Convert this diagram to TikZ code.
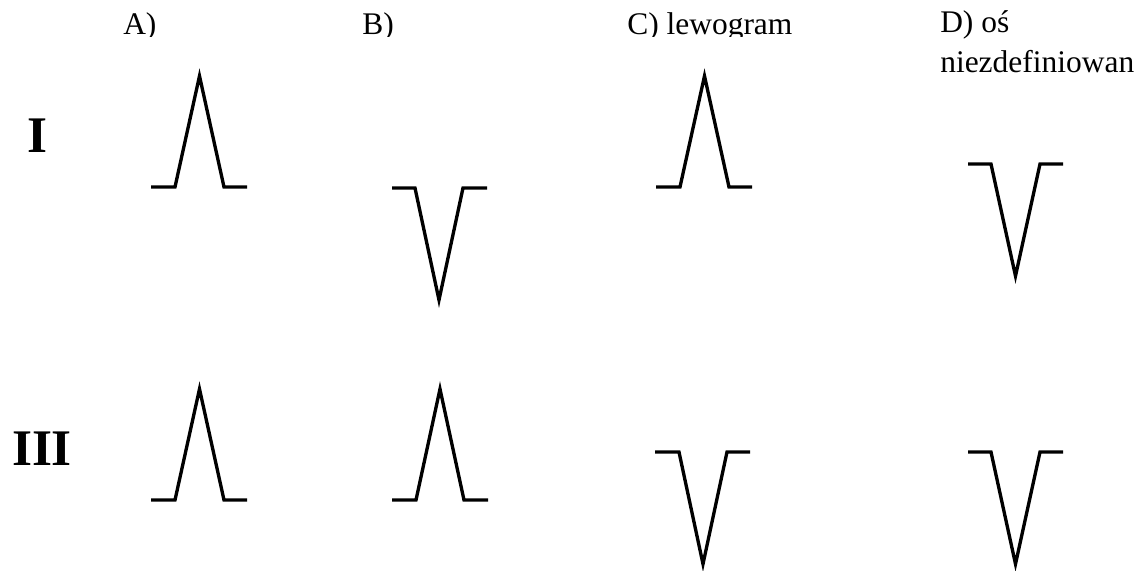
\documentclass[tikz,border=0pt]{standalone}
\usepackage{fontspec}
\setmainfont{Liberation Serif}
\usetikzlibrary{positioning}

\begin{document}
\begin{tikzpicture}[
			x=0.75pt, y=-0.75pt,
			wave/.style={
				line width=2.5pt, line join=miter, line cap=butt, black
			},
			colhead/.style={
				anchor=base west, inner sep=0pt, align=left,
				font=\fontsize{23.6}{29.3}\selectfont
			},
			lead/.style={
				anchor=base, inner sep=0pt,
				font=\fontsize{38.5}{40}\selectfont\bfseries
			}
			]
			\useasboundingbox (0,0) rectangle (1139,571);
			
			%% ── Column headers (cut off at the bottom) ──────────────────────────
			\begin{scope}
				\clip (0,0) rectangle (900,36);
				\node[colhead] (ha) at (123,34) {A)};
				\node[colhead] (hb) at (362,34) {B)};
				\node[colhead] (hc) at (627,34) {C) lewogram};
			\end{scope}
			\node[colhead] (hd) at (940,72) {D) oś\\niezdefiniowan};
			
			%% ── Leads ───────────────────────────────────────────────────────────
			\node[lead] (lI) at (37,152) {I};
			\node[lead] (lIII) at (42,465) {III};
			
			%% ── Lead I ──────────────────────────────────────────────────────────
			\draw[wave] (151,187) -- ++(24,0) -- ++(24.5,-111) -- ++(24.5,111) -- ++(23,0);
			\draw[wave] (392,188) -- ++(23,0) -- ++(24,112) -- ++(24,-112) -- ++(24,0);
			\draw[wave] (656,187) -- ++(24,0) -- ++(24.5,-111) -- ++(24.5,111) -- ++(23,0);
			\draw[wave] (968,164) -- ++(23,0) -- ++(24.5,112) -- ++(24.5,-112) -- ++(23,0);
			
			%% ── Lead III ────────────────────────────────────────────────────────
			\draw[wave] (151,500) -- ++(24,0) -- ++(24.5,-111) -- ++(24.5,111) -- ++(23,0);
			\draw[wave] (392,500) -- ++(24,0) -- ++(24,-111) -- ++(24,111) -- ++(24,0);
			\draw[wave] (655,452) -- ++(24,0) -- ++(24,112) -- ++(24,-112) -- ++(23,0);
			\draw[wave] (968,452) -- ++(23,0) -- ++(24.5,112) -- ++(24.5,-112) -- ++(23,0);
			
		\end{tikzpicture}
\end{document}
